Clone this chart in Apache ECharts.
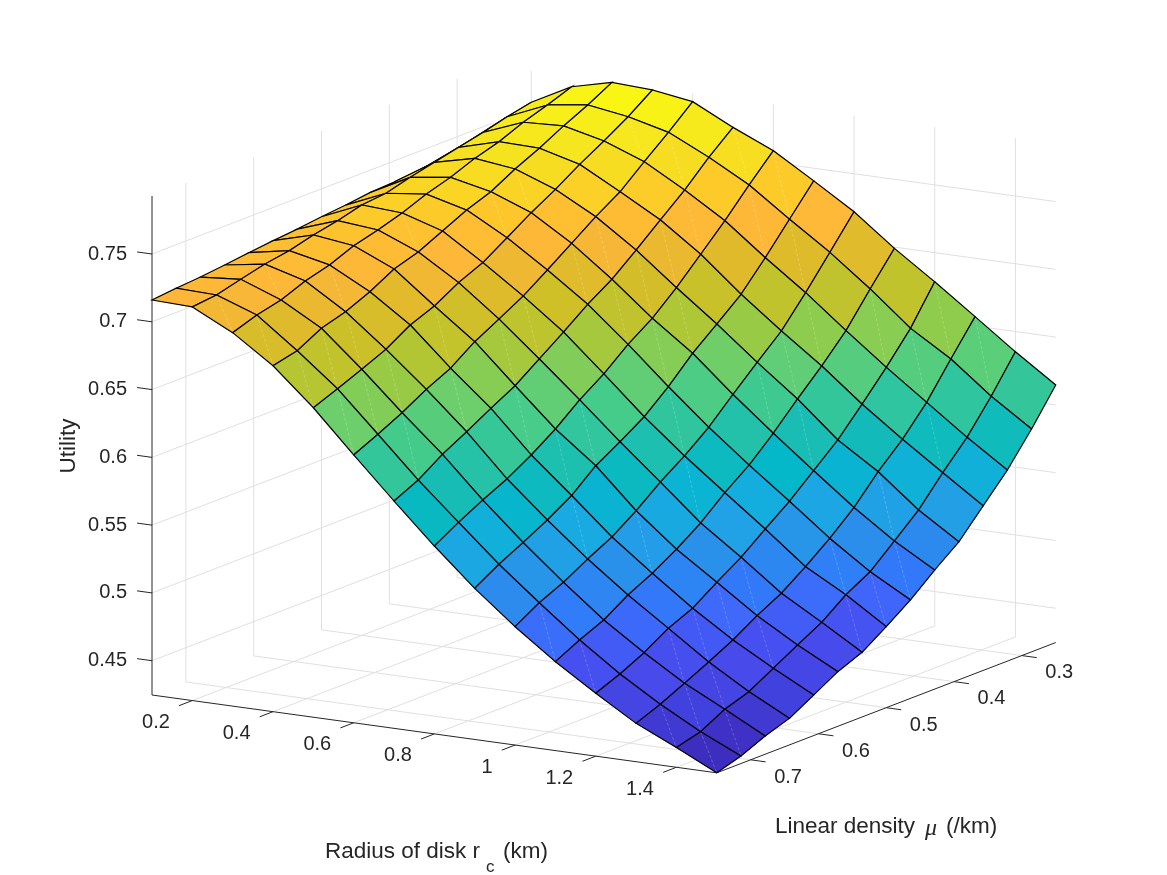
<!DOCTYPE html>
<html>
<head>
<meta charset="utf-8">
<title>Utility surface</title>
<style>html,body{margin:0;padding:0;background:#fff}#chart{width:1167px;height:875px}</style>
<script src="https://cdn.jsdelivr.net/npm/echarts@6/dist/echarts.min.js"></script>
</head>
<body>
<div id="chart"></div>
<script>
// Sample positions of the surface.
const radii = [0.1, 0.2, 0.3, 0.4, 0.5, 0.6, 0.7, 0.8, 0.9, 1.0, 1.1, 1.2, 1.3, 1.4, 1.5];
const densities = [0.75, 0.7143, 0.6786, 0.6429, 0.6071, 0.5714, 0.5357, 0.5, 0.4643, 0.4286, 0.3929, 0.3571, 0.3214, 0.2857, 0.25];

// Utility for each radius (rows) and density (columns, same order as densities).
const utility = [
  [0.7161, 0.7179, 0.7193, 0.7213, 0.7235, 0.7255, 0.7272, 0.7294, 0.7312, 0.7335, 0.7345, 0.7357, 0.7392, 0.7430, 0.7476],
  [0.7151, 0.7170, 0.7217, 0.7261, 0.7291, 0.7338, 0.7375, 0.7422, 0.7440, 0.7489, 0.7531, 0.7573, 0.7614, 0.7661, 0.7699],
  [0.7002, 0.7063, 0.7106, 0.7177, 0.7227, 0.7300, 0.7347, 0.7404, 0.7475, 0.7530, 0.7601, 0.7655, 0.7730, 0.7789, 0.7855],
  [0.6799, 0.6841, 0.6938, 0.6991, 0.7070, 0.7169, 0.7226, 0.7312, 0.7398, 0.7465, 0.7564, 0.7648, 0.7744, 0.7830, 0.7928],
  [0.6530, 0.6601, 0.6677, 0.6755, 0.6866, 0.6937, 0.7041, 0.7120, 0.7235, 0.7351, 0.7454, 0.7570, 0.7674, 0.7784, 0.7913],
  [0.6223, 0.6307, 0.6397, 0.6501, 0.6588, 0.6715, 0.6813, 0.6914, 0.7038, 0.7166, 0.7294, 0.7409, 0.7562, 0.7710, 0.7868],
  [0.5924, 0.6010, 0.6131, 0.6229, 0.6333, 0.6431, 0.6560, 0.6690, 0.6826, 0.6942, 0.7089, 0.7242, 0.7394, 0.7567, 0.7719],
  [0.5633, 0.5739, 0.5835, 0.5922, 0.6030, 0.6153, 0.6299, 0.6422, 0.6571, 0.6695, 0.6852, 0.7030, 0.7209, 0.7404, 0.7588],
  [0.5362, 0.5471, 0.5563, 0.5660, 0.5772, 0.5923, 0.6031, 0.6147, 0.6300, 0.6478, 0.6625, 0.6776, 0.6977, 0.7192, 0.7407],
  [0.5120, 0.5228, 0.5310, 0.5413, 0.5507, 0.5632, 0.5775, 0.5899, 0.6042, 0.6215, 0.6383, 0.6546, 0.6760, 0.6989, 0.7220],
  [0.4903, 0.4994, 0.5073, 0.5189, 0.5280, 0.5389, 0.5514, 0.5669, 0.5804, 0.5970, 0.6154, 0.6329, 0.6521, 0.6760, 0.6991],
  [0.4711, 0.4785, 0.4873, 0.4984, 0.5063, 0.5186, 0.5302, 0.5442, 0.5578, 0.5735, 0.5893, 0.6088, 0.6291, 0.6510, 0.6785],
  [0.4530, 0.4602, 0.4688, 0.4777, 0.4870, 0.4981, 0.5078, 0.5205, 0.5345, 0.5504, 0.5700, 0.5870, 0.6074, 0.6325, 0.6569],
  [0.4393, 0.4441, 0.4538, 0.4599, 0.4702, 0.4805, 0.4904, 0.5039, 0.5140, 0.5298, 0.5458, 0.5665, 0.5857, 0.6091, 0.6351],
  [0.4247, 0.4302, 0.4381, 0.4443, 0.4546, 0.4650, 0.4724, 0.4845, 0.4973, 0.5125, 0.5265, 0.5462, 0.5657, 0.5891, 0.6147]
];

const radiusTicks = [0.2, 0.4, 0.6, 0.8, 1, 1.2, 1.4];
const densityTicks = [0.3, 0.4, 0.5, 0.6, 0.7];
const utilityTicks = [0.45, 0.5, 0.55, 0.6, 0.65, 0.7, 0.75];

const colorRamp = [
  '#3d2db8', '#3f2fc4', '#4040dc', '#4848e8', '#4650f0', '#3f67fb', '#2f7ef8', '#2b8eeb', '#22a0e6',
  '#14aede', '#03b8c8', '#18bdb4', '#2fc59f', '#48cc88', '#68cf70', '#90cc4c', '#b8c530', '#cec028',
  '#e2ba2c', '#fdb63a', '#fec030', '#fad524', '#f5e320', '#f7ee1a', '#fbfb10'
];

// Facets whose triangulation seam stays visible: [radius index, density index].
const seamFacets = [
  [6,8],[6,9],[7,8],[7,9],[8,7],[9,9],[9,10],[10,9],[9,11],[9,6],[7,5],[7,4],[9,4],[4,0],[4,1],[4,2],[5,1],
  [3,1],[3,2],[3,0],[4,4],[5,3],[6,4],[5,5],[5,6],[9,0],[10,0],[12,0],[13,0],[11,2],[11,3],[11,4],[8,3],
  [13,1],[12,1],[12,2],[11,5],[12,4],[12,7],[13,6],[13,7],[13,8],[12,9],[12,11],[11,12],[12,13],[6,13],
  [7,13],[7,12],[8,12],[10,12],[11,13],[1,2],[1,0],[2,0],[2,3],[2,6],[3,8],[3,9],[5,9],[5,8],[6,10],[6,11],
  [5,12],[4,12]
];

const FLOOR = 0.4247, CEILING = 0.7928;
const R_MIN = 0.1, R_MAX = 1.5, MU_MIN = 0.25, MU_MAX = 0.75;
const TEXT = '#262626', GRID = '#e0e0e0', AXIS = '#262626';
const TICK_FONT = '20px "Liberation Sans", Arial, sans-serif';
const TITLE_FONT = '22.5px "Liberation Sans", Arial, sans-serif';

// Orthographic view of the (radius, density, utility) box onto the plane of the page.
function project(r, mu, z) {
  return [
    152 + (r - R_MIN) * 403.4 + (MU_MAX - mu) * 678,
    695 + (r - R_MIN) * 55.6 - (MU_MAX - mu) * 260.6 - (z - FLOOR) * 1355.6
  ];
}

// Straight segments of the box in data space: grid on the walls and floor.
const gridSegments = [];
radiusTicks.forEach(r => {
  gridSegments.push([r, MU_MAX, FLOOR, r, MU_MIN, FLOOR]);
  gridSegments.push([r, MU_MIN, FLOOR, r, MU_MIN, CEILING]);
});
densityTicks.forEach(mu => {
  gridSegments.push([R_MIN, mu, FLOOR, R_MAX, mu, FLOOR]);
  gridSegments.push([R_MIN, mu, FLOOR, R_MIN, mu, CEILING]);
});
utilityTicks.forEach(z => {
  gridSegments.push([R_MIN, MU_MAX, z, R_MIN, MU_MIN, z]);
  gridSegments.push([R_MIN, MU_MIN, z, R_MAX, MU_MIN, z]);
});

// Axis lines and their tick marks.
const axisSegments = [
  [R_MIN, MU_MAX, FLOOR, R_MIN, MU_MAX, CEILING],
  [R_MIN, MU_MAX, FLOOR, R_MAX, MU_MAX, FLOOR],
  [R_MAX, MU_MAX, FLOOR, R_MAX, MU_MIN, FLOOR]
];
radiusTicks.forEach(r => axisSegments.push([r, MU_MAX, FLOOR, r, MU_MAX + 0.0196, FLOOR]));
densityTicks.forEach(mu => axisSegments.push([R_MAX, mu, FLOOR, R_MAX + 0.037, mu, FLOOR]));
utilityTicks.forEach(z => axisSegments.push([R_MIN, MU_MAX, z, R_MIN - 0.037, MU_MAX, z]));

// Facets listed far to near so nearer ones paint over farther ones.
const facets = [];
for (let i = 0; i < radii.length - 1; i++) {
  for (let j = densities.length - 2; j >= 0; j--) {
    const mean = (utility[i][j] + utility[i + 1][j] + utility[i][j + 1] + utility[i + 1][j + 1]) / 4;
    facets.push([i, j, mean]);
  }
}
const seamLookup = new Set(seamFacets.map(f => f.join('_')));

function segmentSeries(segments, color, width) {
  return {
    type: 'custom',
    silent: true,
    animation: false,
    data: segments,
    encode: { x: 0, y: 1 },
    renderItem(params, api) {
      const a = api.coord(project(api.value(0), api.value(1), api.value(2)));
      const b = api.coord(project(api.value(3), api.value(4), api.value(5)));
      return {
        type: 'line',
        shape: { x1: a[0], y1: a[1], x2: b[0], y2: b[1] },
        style: { stroke: color, lineWidth: width, fill: null }
      };
    }
  };
}

function tickLabelSeries(ticks, anchor, format, dx, dy, align) {
  return {
    type: 'custom',
    silent: true,
    animation: false,
    data: ticks.map(t => [t]),
    renderItem(params, api) {
      const t = api.value(0);
      const p = api.coord(anchor(t));
      return {
        type: 'text',
        x: p[0] + dx,
        y: p[1] + dy,
        style: { text: format(t), font: TICK_FONT, fill: TEXT, textAlign: align, textVerticalAlign: 'middle' }
      };
    }
  };
}

const surfaceSeries = {
  type: 'custom',
  silent: true,
  animation: false,
  progressive: 0,
  data: facets,
  encode: { x: 0, y: 1 },
  renderItem(params, api) {
    const i = api.value(0), j = api.value(1);
    const node = (a, b) => api.coord(project(radii[a], densities[b], utility[a][b]));
    const n00 = node(i, j), n10 = node(i + 1, j), n11 = node(i + 1, j + 1), n01 = node(i, j + 1);
    const pts = [n00, n10, n11, n01];
    const children = [{
      type: 'polygon',
      shape: { points: pts },
      style: { fill: api.visual('color'), stroke: api.visual('color'), lineWidth: 0.4 }
    }];
    if (seamLookup.has(i + '_' + j)) {
      children.push({
        type: 'line',
        shape: { x1: n01[0], y1: n01[1], x2: n10[0], y2: n10[1] },
        style: { stroke: 'rgba(255,255,255,0.3)', lineWidth: 0.7, lineDash: [3, 2], fill: null }
      });
    }
    children.push({
      type: 'polygon',
      shape: { points: pts },
      style: { fill: null, stroke: '#000000', lineWidth: 1.2 }
    });
    return { type: 'group', children };
  }
};

const titleSeries = {
  type: 'custom',
  silent: true,
  animation: false,
  data: [[0]],
  renderItem() {
    const t = (text, x, y, font, extra) => Object.assign({
      type: 'text', x, y,
      style: { text, font, fill: TEXT, textAlign: 'left', textVerticalAlign: 'middle' }
    }, extra || {});
    const rotated = t('Utility', 69, 446, TITLE_FONT, { rotation: Math.PI / 2 });
    rotated.style.textAlign = 'center';
    return {
      type: 'group',
      children: [
        rotated,
        t('Radius of disk r', 325, 852, TITLE_FONT),
        t('c', 486, 867, '17px "Liberation Sans", Arial, sans-serif'),
        t('(km)', 503, 852, TITLE_FONT),
        t('Linear density', 775, 827, TITLE_FONT),
        t('\u03bc', 925, 829, 'italic 24px "Liberation Serif", serif'),
        t('(/km)', 946, 827, TITLE_FONT)
      ]
    };
  }
};

const series = [
  segmentSeries(gridSegments, GRID, 1),
  segmentSeries(axisSegments, AXIS, 1),
  surfaceSeries,
  tickLabelSeries(utilityTicks, z => project(R_MIN, MU_MAX, z), z => String(z), -25, 0, 'right'),
  tickLabelSeries(radiusTicks, r => project(r, MU_MAX, FLOOR), r => String(r), -22.5, 22, 'right'),
  tickLabelSeries(densityTicks, mu => project(R_MAX, mu, FLOOR), mu => String(mu), 23.5, 17.3, 'left'),
  titleSeries
];

const chart = echarts.init(document.getElementById('chart'));
chart.setOption({
  animation: false,
  backgroundColor: '#ffffff',
  grid: { left: 0, right: 0, top: 0, bottom: 0 },
  xAxis: { type: 'value', min: 0, max: 1167, show: false },
  yAxis: { type: 'value', min: 0, max: 875, inverse: true, show: false },
  visualMap: {
    show: false,
    type: 'continuous',
    seriesIndex: 2,
    dimension: 2,
    min: FLOOR,
    max: CEILING,
    inRange: { color: colorRamp }
  },
  series
});
</script>
</body>
</html>
